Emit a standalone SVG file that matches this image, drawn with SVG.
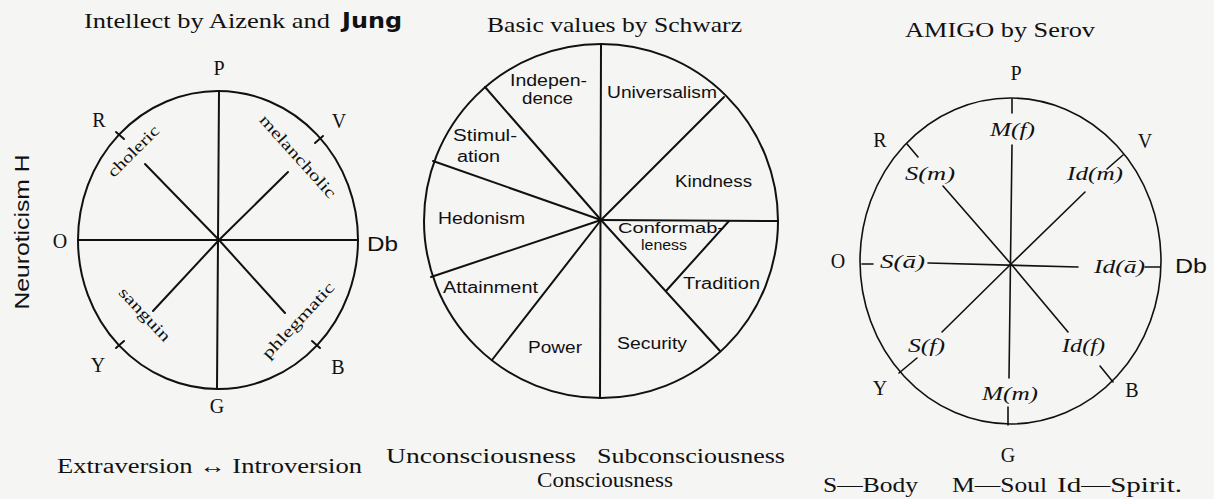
<svg xmlns="http://www.w3.org/2000/svg" width="1214" height="499" viewBox="0 0 1214 499">
  <style>
    .ln { stroke: #111; stroke-width: 2; fill: none; stroke-linecap: round; }
    .thin { stroke: #111; stroke-width: 1.6; fill: none; stroke-linecap: round; }
    .serif { font-family: "Liberation Serif", "DejaVu Serif", serif; fill: #111; }
    .sans { font-family: "Liberation Sans", "DejaVu Sans", sans-serif; fill: #111; }
    .title { font-size: 22px; }
    .lab { font-size: 20px; }
    .small { font-size: 16px; }
    .tiny { font-size: 14px; }
    .it { font-family: "Liberation Serif", "DejaVu Serif", serif; font-style: italic; font-size: 19px; fill: #111; }
    .mid { text-anchor: middle; }
  </style>
  <rect x="0" y="0" width="1214" height="499" fill="#f5f5f4"/>

  <!-- Left diagram: Intellect by Aizenk and Jung -->
  <g id="left-diagram">
    <text class="serif title" x="84" y="28" textLength="246" lengthAdjust="spacingAndGlyphs">Intellect by Aizenk and</text>
    <text x="342" y="28" font-family="DejaVu Sans, sans-serif" font-weight="bold" font-size="21" fill="#111" textLength="60" lengthAdjust="spacingAndGlyphs">Jung</text>
    <ellipse class="ln" cx="218" cy="240" rx="140" ry="149"/>
    <g id="left-axes">
      <line class="ln" x1="219" y1="91" x2="217" y2="389"/>
      <line class="ln" x1="78" y1="240" x2="358" y2="240"/>
      <line class="ln" x1="145" y1="164" x2="219" y2="240"/>
      <line class="ln" x1="288" y1="172" x2="219" y2="240"/>
      <line class="ln" x1="219" y1="240" x2="153" y2="311"/>
      <line class="ln" x1="219" y1="240" x2="285" y2="313"/>
      <line class="ln" x1="116" y1="132" x2="124" y2="139"/>
      <line class="ln" x1="323" y1="136" x2="315" y2="143"/>
      <line class="ln" x1="116" y1="348" x2="124" y2="341"/>
      <line class="ln" x1="320" y1="348" x2="312" y2="341"/>
    </g>
    <text class="serif lab mid" x="219" y="75">P</text>
    <text class="serif lab mid" x="99" y="127">R</text>
    <text class="serif lab mid" x="339" y="128">V</text>
    <text class="serif lab mid" x="60" y="248">O</text>
    <text class="sans lab" x="367" y="251" textLength="31" lengthAdjust="spacingAndGlyphs">Db</text>
    <text class="serif lab mid" x="98" y="372">Y</text>
    <text class="serif lab mid" x="338" y="374">B</text>
    <text class="serif lab mid" x="217" y="413">G</text>
    <text class="serif small mid" transform="translate(137,155) rotate(-45)" textLength="66" lengthAdjust="spacingAndGlyphs">choleric</text>
    <text class="serif small mid" transform="translate(294,160) rotate(48)" textLength="106" lengthAdjust="spacingAndGlyphs">melancholic</text>
    <text class="serif small mid" transform="translate(141,318) rotate(47)" textLength="68" lengthAdjust="spacingAndGlyphs">sanguin</text>
    <text class="serif small mid" transform="translate(302,324) rotate(-47)" textLength="98" lengthAdjust="spacingAndGlyphs">phlegmatic</text>
    <text class="sans mid" font-size="21" transform="translate(29,232) rotate(-90)" textLength="155" lengthAdjust="spacingAndGlyphs">Neuroticism H</text>
    <text class="serif lab" x="57" y="473" textLength="305" lengthAdjust="spacingAndGlyphs">Extraversion ↔ Introversion</text>
  </g>

  <!-- Middle diagram: Basic values by Schwarz -->
  <g id="middle-diagram">
    <text class="serif title" x="487" y="32" textLength="255" lengthAdjust="spacingAndGlyphs">Basic values by Schwarz</text>
    <circle class="ln" cx="601" cy="221" r="177"/>
    <g id="middle-sectors">
      <line class="ln" x1="601" y1="44" x2="600" y2="398"/>
      <line class="ln" x1="601" y1="220" x2="485" y2="87"/>
      <line class="ln" x1="601" y1="220" x2="433" y2="161"/>
      <line class="ln" x1="601" y1="220" x2="431" y2="277"/>
      <line class="ln" x1="601" y1="220" x2="492" y2="360"/>
      <line class="ln" x1="601" y1="220" x2="724" y2="97"/>
      <line class="ln" x1="601" y1="220" x2="778" y2="221"/>
      <line class="ln" x1="601" y1="220" x2="720" y2="351"/>
      <line class="ln" x1="729" y1="221" x2="666" y2="291"/>
    </g>
    <text class="sans small" x="510" y="86" textLength="77" lengthAdjust="spacingAndGlyphs">Indepen-</text>
    <text class="sans small" x="522" y="104" textLength="51" lengthAdjust="spacingAndGlyphs">dence</text>
    <text class="sans small" x="607" y="98" textLength="110" lengthAdjust="spacingAndGlyphs">Universalism</text>
    <text class="sans small" x="453" y="141" textLength="64" lengthAdjust="spacingAndGlyphs">Stimul-</text>
    <text class="sans small" x="457" y="162" textLength="43" lengthAdjust="spacingAndGlyphs">ation</text>
    <text class="sans small" x="675" y="187" textLength="77" lengthAdjust="spacingAndGlyphs">Kindness</text>
    <text class="sans small" x="438" y="224" textLength="87" lengthAdjust="spacingAndGlyphs">Hedonism</text>
    <text class="sans tiny" x="618" y="233" textLength="106" lengthAdjust="spacingAndGlyphs">Conformab-</text>
    <text class="sans tiny" x="641" y="250" textLength="46" lengthAdjust="spacingAndGlyphs">leness</text>
    <text class="sans small" x="683" y="289" textLength="77" lengthAdjust="spacingAndGlyphs">Tradition</text>
    <text class="sans small" x="443" y="293" textLength="95" lengthAdjust="spacingAndGlyphs">Attainment</text>
    <text class="sans small" x="528" y="353" textLength="54" lengthAdjust="spacingAndGlyphs">Power</text>
    <text class="sans small" x="617" y="349" textLength="70" lengthAdjust="spacingAndGlyphs">Security</text>
    <text class="serif lab" x="386" y="463" textLength="190" lengthAdjust="spacingAndGlyphs">Unconsciousness</text>
    <text class="serif lab" x="597" y="463" textLength="188" lengthAdjust="spacingAndGlyphs">Subconsciousness</text>
    <text class="serif lab" x="537" y="487" textLength="136" lengthAdjust="spacingAndGlyphs">Consciousness</text>
  </g>

  <!-- Right diagram: AMIGO by Serov -->
  <g id="right-diagram">
    <text class="serif title" x="905" y="37" textLength="190" lengthAdjust="spacingAndGlyphs">AMIGO by Serov</text>
    <ellipse class="thin" cx="1010.5" cy="261" rx="150.5" ry="163"/>
    <g id="right-axes">
      <line class="thin" x1="1012" y1="99" x2="1012" y2="113"/>
      <line class="thin" x1="1012" y1="145" x2="1009" y2="378"/>
      <line class="thin" x1="1008" y1="407" x2="1008" y2="425"/>
      <line class="thin" x1="862" y1="264" x2="873" y2="264"/>
      <line class="thin" x1="928" y1="263" x2="1078" y2="267"/>
      <line class="thin" x1="1145" y1="267" x2="1160" y2="267"/>
      <line class="thin" x1="907" y1="144" x2="918" y2="157"/>
      <line class="thin" x1="943" y1="186" x2="1011" y2="264"/>
      <line class="thin" x1="1123" y1="155" x2="1107" y2="169"/>
      <line class="thin" x1="1085" y1="192" x2="1011" y2="264"/>
      <line class="thin" x1="1011" y1="264" x2="942" y2="332"/>
      <line class="thin" x1="899" y1="373" x2="917" y2="358"/>
      <line class="thin" x1="1011" y1="264" x2="1068" y2="332"/>
      <line class="thin" x1="1100" y1="366" x2="1113" y2="382"/>
    </g>
    <text class="serif lab mid" x="1016" y="80">P</text>
    <text class="serif lab mid" x="880" y="147">R</text>
    <text class="serif lab mid" x="1145" y="148">V</text>
    <text class="serif lab mid" x="838" y="268">O</text>
    <text class="sans lab" x="1175" y="273" textLength="32" lengthAdjust="spacingAndGlyphs">Db</text>
    <text class="serif lab mid" x="880" y="395">Y</text>
    <text class="serif lab mid" x="1132" y="397">B</text>
    <text class="serif lab mid" x="1008" y="462">G</text>
    <text class="it" x="990" y="136" textLength="45" lengthAdjust="spacingAndGlyphs">M(f)</text>
    <text class="it" x="905" y="180" textLength="50" lengthAdjust="spacingAndGlyphs">S(m)</text>
    <text class="it" x="1067" y="180" textLength="56" lengthAdjust="spacingAndGlyphs">Id(m)</text>
    <text class="it" x="880" y="268" textLength="45" lengthAdjust="spacingAndGlyphs">S(ā)</text>
    <text class="it" x="1094" y="273" textLength="51" lengthAdjust="spacingAndGlyphs">Id(ā)</text>
    <text class="it" x="908" y="352" textLength="37" lengthAdjust="spacingAndGlyphs">S(f)</text>
    <text class="it" x="1062" y="352" textLength="43" lengthAdjust="spacingAndGlyphs">Id(f)</text>
    <text class="it" x="982" y="400" textLength="56" lengthAdjust="spacingAndGlyphs">M(m)</text>
    <text class="serif lab" x="823" y="492" textLength="95" lengthAdjust="spacingAndGlyphs">S—Body</text>
    <text class="serif lab" x="952" y="492" textLength="95" lengthAdjust="spacingAndGlyphs">M—Soul</text>
    <text class="serif lab" x="1057" y="492" textLength="125" lengthAdjust="spacingAndGlyphs">Id—Spirit.</text>
  </g>
</svg>
